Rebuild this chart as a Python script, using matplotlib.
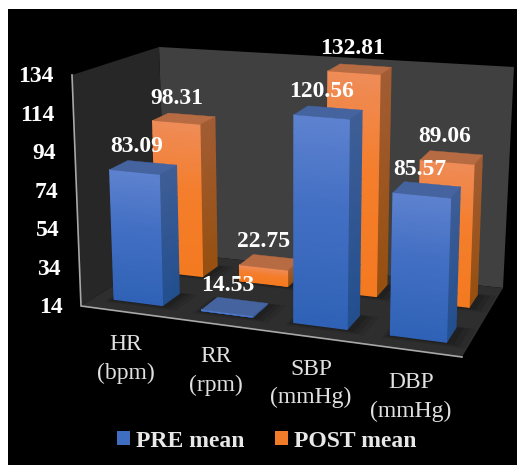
import numpy as np
import matplotlib
matplotlib.use("Agg")
import matplotlib.pyplot as plt
from matplotlib.colors import LinearSegmentedColormap
from matplotlib.patches import Polygon, Patch

# Chart data
categories = ["HR\n(bpm)", "RR\n(rpm)", "SBP\n(mmHg)", "DBP\n(mmHg)"]
series_names = ["PRE mean", "POST mean"]
pre_mean = [83.09, 14.53, 120.56, 85.57]
post_mean = [98.31, 22.75, 132.81, 89.06]
y_ticks = [14, 34, 54, 74, 94, 114, 134]
y_min, y_max = 14, 134

plt.rcParams["font.family"] = ["Liberation Serif", "DejaVu Serif"]
FONT = 17

# Outline of the 3D box in figure pixels: floor and ceiling quads,
# ordered front-left, front-right, back-right, back-left.
FLOOR = np.array([[81, 306], [462, 357], [503, 288], [166, 252]], float)
CEILING = np.array([[72, 75], [470, 112], [514, 67], [159, 47]], float)


def homography(quad):
    src = [(0, 0), (1, 0), (1, 1), (0, 1)]
    rows, rhs = [], []
    for (s, t), (x, y) in zip(src, quad):
        rows.append([s, t, 1, 0, 0, 0, -s * x, -t * x])
        rows.append([0, 0, 0, s, t, 1, -s * y, -t * y])
        rhs += [x, y]
    h = np.linalg.solve(np.array(rows), np.array(rhs))
    return np.append(h, 1).reshape(3, 3)


H_FLOOR = homography(FLOOR)


def floor_point(u, v):
    # A slight warp along the category axis evens out the bar spacing
    u = u + 0.05 * u * (1 - u)
    p = H_FLOOR @ np.array([u, v, 1.0])
    return p[:2] / p[2]


def project(u, v, value):
    """Category and depth coordinates plus a data value -> pixel position."""
    w = (value - y_min) / (y_max - y_min)
    x, y = floor_point(u, v)
    # Verticals lean gently outwards; the full axis height grows towards the viewer
    return np.array([x + w * 0.044 * (x - 290), y - w * (111.5 + 0.38 * y)])


def left_edge(value):
    w = (value - y_min) / (y_max - y_min)
    return (1 - w) * FLOOR[0] + w * CEILING[0]


STYLES = {
    0: dict(
        front=[(0, "#2f62b6"), (0.55, "#426fc3"), (1, "#5e82cf")],
        side=[(0, "#234f8f"), (1, "#3f5e96")],
        top="#44639f",
    ),
    1: dict(
        front=[(0, "#f47a20"), (0.55, "#f47e2c"), (1, "#ef8c58")],
        side=[(0, "#97500f"), (1, "#a25c34")],
        top="#b66b42",
    ),
}

BAR_HALF_W = 0.07
BAR_HALF_D = 0.10
N_ROWS = 12

fig = plt.figure(figsize=(5.17, 4.65), dpi=100, facecolor="white")
ax = fig.add_axes([8 / 517, 0, 509 / 517, 456 / 465], facecolor="black")
ax.set_xticks([])
ax.set_yticks([])
for spine in ax.spines.values():
    spine.set_visible(False)

# Walls and floor
ax.add_patch(Polygon(CEILING[[3, 2]].tolist() + FLOOR[[2, 3]].tolist(), fc="#404040", ec="none", zorder=1))
ax.add_patch(Polygon(CEILING[[0, 3]].tolist() + FLOOR[[3, 0]].tolist(), fc="#272727", ec="none", zorder=1))
floor_patch = Polygon(FLOOR, fc="#2e2e2e", ec="none", zorder=2)
ax.add_patch(floor_patch)
ax.plot(*zip(CEILING[0], FLOOR[0], FLOOR[1]), color="#a8a8a8", lw=1.2, zorder=3, solid_joinstyle="miter")


def gradient_face(p0, p1, value, stops, z):
    """Vertical face between floor points p0 and p1, shaded from floor to value."""
    cmap = LinearSegmentedColormap.from_list("face", stops)
    levels = np.linspace(y_min, value, N_ROWS + 1)
    pts = np.array([[project(*p0, lv), project(*p1, lv)] for lv in levels])
    shade = np.linspace(0, 1, N_ROWS + 1)[:, None].repeat(2, axis=1)
    ax.pcolormesh(pts[..., 0], pts[..., 1], shade, cmap=cmap, vmin=0, vmax=1,
                  shading="gouraud", zorder=z)


def draw_bar(i, j, value, z):
    style = STYLES[j]
    uc, vc = (i + 0.5) / len(categories), (j + 0.5) / 2
    u0, u1 = uc - BAR_HALF_W, uc + BAR_HALF_W
    v0, v1 = vc - BAR_HALF_D, vc + BAR_HALF_D
    # Soft contact shadow on the floor
    for grow, alpha in [(0.05, 0.12), (0.035, 0.16), (0.02, 0.22)]:
        a, b = v0 - grow, v1 + grow * 0.3
        c, d = u0 - grow * 0.3, u1 + grow
        s = Polygon([project(c, a, y_min), project(d, a, y_min), project(d, b, y_min), project(c, b, y_min)],
                    fc="#111111", ec="none", alpha=alpha, zorder=z)
        ax.add_patch(s)
        s.set_clip_path(floor_patch)
    gradient_face((u1, v0), (u1, v1), value, style["side"], z + 0.1)
    gradient_face((u0, v0), (u1, v0), value, style["front"], z + 0.2)
    ax.add_patch(Polygon([project(u0, v0, value), project(u1, v0, value), project(u1, v1, value), project(u0, v1, value)],
                         fc=style["top"], ec=style["top"], lw=0.3, zorder=z + 0.3))
    return project(uc, vc, value)


tops = []
for j, values in reversed(list(enumerate([pre_mean, post_mean]))):
    for i, value in enumerate(values):
        z = 5 + (1 - j) * 10 + i
        tops.append((draw_bar(i, j, value, z), value))

# Data labels sit a fixed distance above each bar's top face
for (x, y), value in tops:
    ax.text(x - 7, y - 20.5, f"{value:.2f}", color="white", fontsize=FONT, fontweight="bold",
            ha="center", va="center", zorder=40)

# Value axis labels follow the left wall's front edge
for tick in y_ticks:
    x, y = left_edge(tick)
    ax.text(x - 18.5, y + 1.5, str(tick), color="white", fontsize=FONT, fontweight="bold",
            ha="right", va="center", zorder=40)

# Category labels below the floor's front edge
for i, label in enumerate(categories):
    x, y = project((i + 0.5) / len(categories), 0, y_min)
    ax.text(x + 1, y + 47, label, color="#e0e0e0", fontsize=FONT, ha="center", va="center",
            linespacing=1.45, zorder=40)

handles = [Patch(fc="#3f6ec0", ec="none"), Patch(fc="#f07b28", ec="none")]
leg = ax.legend(handles, series_names, ncol=2, loc="center", bbox_to_anchor=(267, 441),
                bbox_transform=ax.transData, frameon=False,
                prop=dict(size=FONT, weight="bold"), labelcolor="#e8e8e8",
                handlelength=0.55, handleheight=0.55, handletextpad=0.25,
                columnspacing=1.3, borderpad=0, borderaxespad=0)

ax.set_xlim(8, 517)
ax.set_ylim(465, 9)
fig.savefig("out.png", dpi=100, facecolor="white")
